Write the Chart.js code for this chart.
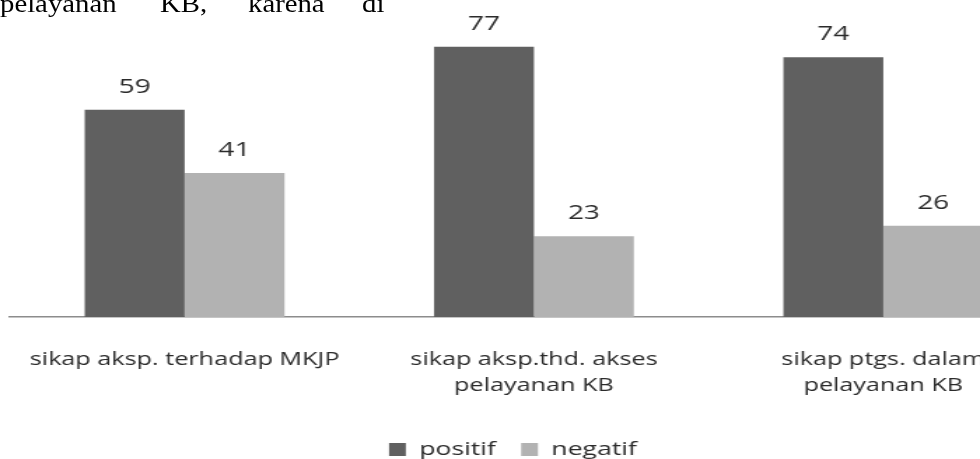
<!DOCTYPE html>
<html>
<head>
<meta charset="utf-8">
<script src="https://cdn.jsdelivr.net/npm/chart.js@4/dist/chart.umd.min.js"></script>
<style>
  html, body { margin: 0; padding: 0; background: #fff; width: 980px; height: 459px; overflow: hidden; position: relative; }
  #stage { position: absolute; left: 0; top: 0; width: 780px; height: 459px; transform: scaleX(1.4); transform-origin: 0 0; }
  .doc { position: absolute; top: -8.6px; font-family: "Liberation Serif", "Times New Roman", serif; font-size: 25px; line-height: 25px; color: #000; white-space: nowrap; transform: scaleX(1.15); transform-origin: 0 0; }
</style>
</head>
<body>
<div id="stage"><canvas id="c" width="780" height="459"></canvas></div>
<span class="doc" style="left:0px">pelayanan</span>
<span class="doc" style="left:160px">KB,</span>
<span class="doc" style="left:248px">karena</span>
<span class="doc" style="left:362px">di</span>
<script>
const categories = [
  "sikap aksp. terhadap MKJP",
  ["sikap aksp.thd. akses", "pelayanan KB"],
  ["sikap ptgs. dalam", "pelayanan KB"]
];
const seriesNames = ["positif", "negatif"];
const positifValues = [59, 77, 74];
const negatifValues = [41, 23, 26];
const seriesColors = ["#606060", "#b2b2b2"];

const legendShift = 15;

const valueLabels = {
  id: "valueLabels",
  afterDatasetsDraw(chart) {
    const ctx = chart.ctx;
    ctx.save();
    ctx.font = "20px 'Open Sans'";
    ctx.fillStyle = "#2b2b2b";
    ctx.textAlign = "center";
    ctx.textBaseline = "alphabetic";
    chart.data.datasets.forEach((ds, di) => {
      const meta = chart.getDatasetMeta(di);
      meta.data.forEach((el, i) => {
        ctx.fillText(String(ds.data[i]), el.x, el.y - 17);
      });
    });
    ctx.restore();
  }
};

const legendOffset = {
  id: "legendOffset",
  afterLayout(chart) {
    if (chart.legend) {
      chart.legend.left -= legendShift;
      chart.legend.right -= legendShift;
    }
  }
};

new Chart(document.getElementById("c"), {
  type: "bar",
  data: {
    labels: categories,
    datasets: [
      { label: seriesNames[0], data: positifValues, backgroundColor: seriesColors[0] },
      { label: seriesNames[1], data: negatifValues, backgroundColor: seriesColors[1] }
    ]
  },
  options: {
    responsive: false,
    animation: false,
    devicePixelRatio: 1,
    layout: { padding: { left: 7.1, right: 24.3, top: 1, bottom: -10 } },
    datasets: { bar: { categoryPercentage: 0.572, barPercentage: 1.0, borderWidth: 0 } },
    scales: {
      x: {
        grid: { display: false, drawTicks: false },
        border: { display: true, color: "#8c8c8c", width: 1.5 },
        ticks: {
          color: "#2b2b2b",
          font: { family: "'Open Sans'", size: 18, lineHeight: 1.45 },
          padding: 30,
          maxRotation: 0,
          autoSkip: false
        },
        afterFit(scale) {
          scale.height = 105;
          scale.paddingLeft = 0;
          scale.paddingRight = 0;
        }
      },
      y: {
        display: false,
        min: 0,
        max: 90
      }
    },
    plugins: {
      legend: {
        position: "bottom",
        labels: {
          color: "#2b2b2b",
          font: { family: "'Open Sans'", size: 19 },
          boxWidth: 12,
          boxHeight: 13,
          padding: 18
        }
      },
      tooltip: { enabled: false },
      title: { display: false }
    }
  },
  plugins: [valueLabels, legendOffset]
});
</script>
</body>
</html>
